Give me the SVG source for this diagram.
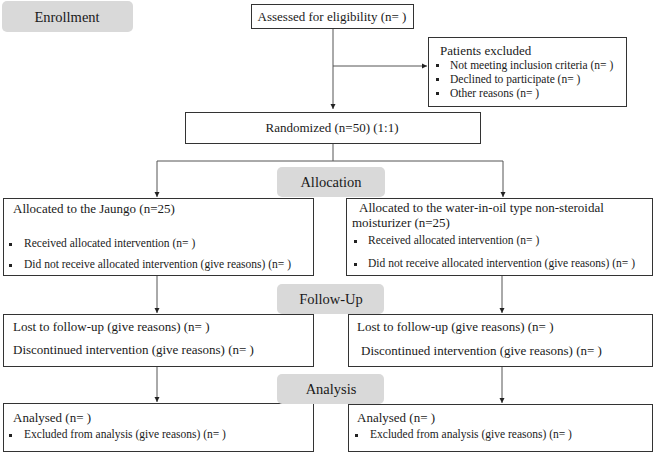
<svg xmlns="http://www.w3.org/2000/svg" width="659" height="459" viewBox="0 0 659 459" font-family="'Liberation Serif', 'Times New Roman', serif">
<defs>
<marker id="ah" markerWidth="6" markerHeight="6" refX="5" refY="3" orient="auto" markerUnits="userSpaceOnUse">
<path d="M0,0.5 L5,3 L0,5.5 Z" fill="#222"/>
</marker>
<style>
.box{fill:#fff;stroke:#333;stroke-width:1}
.pill{fill:#d9d9d9;stroke:none}
text{font-family:'Liberation Serif','Times New Roman',serif;fill:#1a1a1a}
.h{font-size:14.5px}
.m{font-size:13px}
.s{font-size:11.5px}
.c{text-anchor:middle}
.ln{fill:none;stroke:#555;stroke-width:1}
.b{fill:#222}
</style>
</defs>
<rect width="659" height="459" fill="#fff"/>

<g id="connectors">
<path class="ln" d="M333,28 V109" marker-end="url(#ah)"/>
<path class="ln" d="M333,66 H427" marker-end="url(#ah)"/>
<path class="ln" d="M333,143 V161"/>
<path class="ln" d="M157,161 H503"/>
<path class="ln" d="M157,161 V197" marker-end="url(#ah)"/>
<path class="ln" d="M503,161 V197" marker-end="url(#ah)"/>
<path class="ln" d="M157,276 V313" marker-end="url(#ah)"/>
<path class="ln" d="M502,276 V313" marker-end="url(#ah)"/>
<path class="ln" d="M157,367 V402" marker-end="url(#ah)"/>
<path class="ln" d="M502,367 V403" marker-end="url(#ah)"/>
</g>

<g id="enrollment">
<rect class="pill" x="2" y="1" width="131" height="31" rx="5"/>
<text class="h c" x="67" y="21.5">Enrollment</text>
</g>

<g id="assessed">
<rect class="box" x="251.5" y="4.5" width="162" height="24"/>
<text class="m c" x="332" y="21">Assessed for eligibility (n= )</text>
</g>

<g id="excluded">
<rect class="box" x="428.5" y="37.5" width="198" height="69"/>
<text class="m" x="440" y="55">Patients excluded</text>
<rect class="b" x="436" y="64" width="3" height="3"/>
<text class="s" x="450" y="69">Not meeting inclusion criteria (n= )</text>
<rect class="b" x="436" y="78" width="3" height="3"/>
<text class="s" x="450" y="83">Declined to participate (n= )</text>
<rect class="b" x="436" y="92" width="3" height="3"/>
<text class="s" x="450" y="97">Other reasons (n= )</text>
</g>

<g id="randomized">
<rect class="box" x="185.5" y="112.5" width="295" height="31"/>
<text class="m c" x="332" y="132">Randomized (n=50) (1:1)</text>
</g>

<g id="alloc-left">
<rect class="box" x="3.5" y="198.5" width="310" height="77"/>
<text class="m" x="13" y="213">Allocated to the Jaungo  (n=25)</text>
<rect class="b" x="9" y="243" width="3" height="3"/>
<text class="s" x="24" y="247">Received allocated intervention (n= )</text>
<rect class="b" x="9" y="264" width="3" height="3"/>
<text class="s" x="24" y="268">Did not receive allocated intervention (give reasons) (n= )</text>
</g>

<g id="alloc-right">
<rect class="box" x="346.5" y="198.5" width="306" height="77"/>
<text class="m" x="359" y="212">Allocated to the water-in-oil type non-steroidal</text>
<text class="m" x="352" y="227">moisturizer (n=25)</text>
<rect class="b" x="354" y="240" width="3" height="3"/>
<text class="s" x="368" y="244">Received allocated intervention (n= )</text>
<rect class="b" x="354" y="263" width="3" height="3"/>
<text class="s" x="368" y="267">Did not receive allocated intervention (give reasons) (n= )</text>
</g>

<g id="follow-left">
<rect class="box" x="3.5" y="314.5" width="310" height="52"/>
<text class="m" x="13" y="331">Lost to follow-up (give reasons) (n= )</text>
<text class="m" x="13" y="354">Discontinued intervention (give reasons) (n= )</text>
</g>

<g id="follow-right">
<rect class="box" x="348.5" y="314.5" width="304" height="52"/>
<text class="m" x="357" y="331">Lost to follow-up (give reasons) (n= )</text>
<text class="m" x="361" y="355">Discontinued intervention (give reasons) (n= )</text>
</g>

<g id="analysis-left">
<rect class="box" x="3.5" y="403.5" width="310" height="48"/>
<text class="m" x="13" y="422">Analysed (n= )</text>
<rect class="b" x="9" y="434" width="3" height="3"/>
<text class="s" x="24" y="438">Excluded from analysis (give reasons) (n= )</text>
</g>

<g id="analysis-right">
<rect class="box" x="348.5" y="404.5" width="304" height="47"/>
<text class="m" x="357" y="422">Analysed (n= )</text>
<rect class="b" x="355" y="434" width="3" height="3"/>
<text class="s" x="370" y="438">Excluded from analysis (give reasons) (n= )</text>
</g>

<g id="allocation">
<rect class="pill" x="277" y="167" width="108" height="30" rx="5"/>
<text class="h c" x="331" y="187">Allocation</text>
</g>

<g id="follow-up">
<rect class="pill" x="277" y="284" width="107" height="30" rx="5"/>
<text class="h c" x="331" y="304">Follow-Up</text>
</g>

<g id="analysis">
<rect class="pill" x="277" y="374" width="107" height="30" rx="5"/>
<text class="h c" x="331" y="394">Analysis</text>
</g>
</svg>
